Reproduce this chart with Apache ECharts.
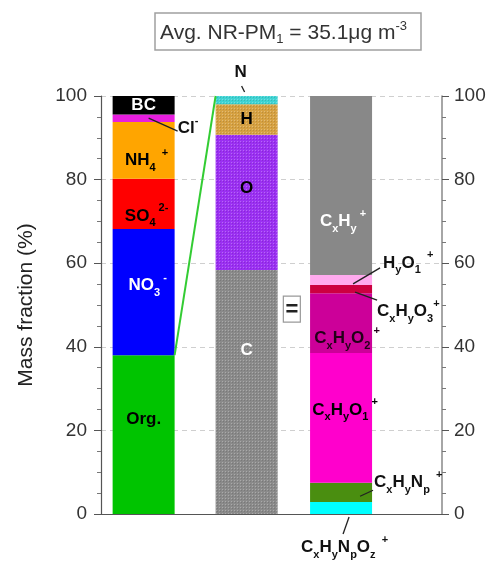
<!DOCTYPE html>
<html><head><meta charset="utf-8">
<script src="https://cdn.jsdelivr.net/npm/echarts@6/dist/echarts.min.js"></script>
<style>html,body{margin:0;padding:0;background:#fff}#c{width:501px;height:562px}</style>
</head><body><div id="c"></div>
<script>
// ---------------- data ----------------
const categories = ['Bulk NR-PM1 + BC', 'Organic elements', 'Organic ion families'];
const barX = [1.25, 4.27, 7.04];          // category positions on the hidden x scale
const bulkNames = ['Org.', 'NO3-', 'SO4 2-', 'NH4+', 'Cl-', 'BC'];
const bulkValues = [38.0, 30.2, 12.0, 13.6, 1.8, 4.4];
const elemNames = ['C', 'O', 'H', 'N'];
const elemValues = [58.4, 32.3, 7.3, 2.0];
const famNames = ['CxHyNpOz+', 'CxHyNp+', 'CxHyO1+', 'CxHyO2+', 'CxHyO3+', 'HyO1+', 'CxHy+'];
const famValues = [2.9, 4.6, 31.0, 14.3, 2.0, 2.4, 42.8];
const yTicks = [0, 20, 40, 60, 80, 100];
const avgMass = 35.1;

// ---------------- styles ----------------
const FF = '"Liberation Sans", Arial, Helvetica, sans-serif';
const bulkColors = ['#00c400', '#0000ff', '#ff0000', '#ffa500', '#e81ee0', '#000000'];
const elemColors = ['#8a8a8a', '#9b30f2', '#d6a142', '#3fd3d3'];
const famColors = ['#00ffff', '#4a8e10', '#ff00cc', '#cc0099', '#cc0040', '#ffaaee', '#888888'];
const rich = {
  b: {fontSize: 17, fontWeight: 'bold', fontFamily: FF, lineHeight: 26, verticalAlign: 'middle'},
  s: {fontSize: 11, fontWeight: 'bold', fontFamily: FF, lineHeight: 15, verticalAlign: 'bottom'},
  p: {fontSize: 11, fontWeight: 'bold', fontFamily: FF, lineHeight: 12, verticalAlign: 'top'}
};
const labelText = {
  'Org.': '{b|Org.}', 'NO3-': '{b|NO}{s|3}{p| -}', 'SO4 2-': '{b|SO}{s|4}{p| 2-}', 'NH4+': '{b|NH}{s|4}{p|  +}',
  'Cl-': '{b|Cl}{p|-}', 'BC': '{b|BC}',
  'C': '{b|C}', 'O': '{b|O}', 'H': '{b|H}', 'N': '{b|N}',
  'CxHyNpOz+': '{b|C}{s|x}{b|H}{s|y}{b|N}{s|p}{b|O}{s|z}{p|  +}', 'CxHyNp+': '{b|C}{s|x}{b|H}{s|y}{b|N}{s|p}{p|  +}',
  'CxHyO1+': '{b|C}{s|x}{b|H}{s|y}{b|O}{s|1}{p| +}', 'CxHyO2+': '{b|C}{s|x}{b|H}{s|y}{b|O}{s|2}{p| +}',
  'CxHyO3+': '{b|C}{s|x}{b|H}{s|y}{b|O}{s|3}{p|+}', 'HyO1+': '{b|H}{s|y}{b|O}{s|1}{p|  +}', 'CxHy+': '{b|C}{s|x}{b|H}{s|y}{p| +}'
};
// inside labels: [text colour, offset from segment centre]
const insideLabels = {
  'Org.': ['#000', [0, -15]], 'NO3-': ['#fff', [4, -7]], 'SO4 2-': ['#000', [3, 12]], 'NH4+': ['#000', [3, 10]], 'BC': ['#fff', [0, 0]],
  'C': ['#fff', [0, -42]], 'O': ['#000', [0, -14]], 'H': ['#000', [0, 0]],
  'CxHy+': ['#fff', [2, 36]], 'CxHyO2+': ['#220018', [6, 15]], 'CxHyO1+': ['#000', [4, -8]]
};

const BAR_W = 62;
const X_MIN = 0, X_MAX = 10;
const GRID = {left: 101, right: 59, top: 96, bottom: 48};
const plotW = 501 - GRID.left - GRID.right;
const halfBar = (BAR_W / 2) * (X_MAX - X_MIN) / plotW;

// dotted texture for the elemental bar
function dotPattern() {
  const c = document.createElement('canvas');
  c.width = 3; c.height = 3;
  const ctx = c.getContext('2d');
  ctx.fillStyle = 'rgba(255,255,255,0.28)';
  ctx.fillRect(0, 0, 1, 1);
  ctx.fillStyle = 'rgba(0,0,0,0.12)';
  ctx.fillRect(1, 1, 1, 1);
  return c;
}
const PAT = dotPattern();

function stackSeries(name, names, values, colors, xi, textured) {
  const data = [];
  let acc = 0;
  values.forEach((v, i) => { data.push([barX[xi], acc, acc + v, i]); acc += v; });
  return {
    type: 'custom', name: name, silent: true, z: 2,
    encode: {x: 0, y: [1, 2]},
    data: data,
    renderItem: function (params, api) {
      const i = api.value(3);
      const p0 = api.coord([api.value(0), api.value(1)]);
      const p1 = api.coord([api.value(0), api.value(2)]);
      const n = names[i];
      const rect = {x: p0[0] - BAR_W / 2, y: p1[1], width: BAR_W, height: p0[1] - p1[1]};
      const children = [{type: 'rect', shape: rect, style: {fill: colors[i]}}];
      if (textured) children.push({type: 'rect', shape: rect, style: {fill: {image: PAT, repeat: 'repeat'}}});
      const il = insideLabels[n];
      if (il) {
        children.push({type: 'text', x: p0[0] + il[1][0], y: (p0[1] + p1[1]) / 2 + il[1][1], z2: 10,
          style: {text: labelText[n], rich: rich, fill: il[0], align: 'center', verticalAlign: 'middle', fontFamily: FF}});
      }
      return {type: 'group', children: children};
    }
  };
}

const series = [
  stackSeries(categories[0], bulkNames, bulkValues, bulkColors, 0, false),
  stackSeries(categories[1], elemNames, elemValues, elemColors, 1, true),
  stackSeries(categories[2], famNames, famValues, famColors, 2, false),
  {
    type: 'line', name: 'link', data: [[barX[0] + halfBar, bulkValues[0]], [barX[1] - halfBar, 100]],
    symbol: 'none', lineStyle: {color: '#33cc33', width: 2}, z: 5, silent: true
  }
];

const chart = echarts.init(document.getElementById('c'), null, {renderer: 'canvas'});
const yAxisBase = {
  type: 'value', min: 0, max: 100, interval: 20,
  axisLine: {show: true, lineStyle: {color: '#555', width: 1.2}},
  axisTick: {show: true, inside: false, length: 7, lineStyle: {color: '#555'}},
  minorTick: {show: true, splitNumber: 4, length: 4, lineStyle: {color: '#777'}},
  axisLabel: {fontSize: 19, color: '#333', fontFamily: FF, formatter: v => (yTicks.indexOf(v) >= 0 ? String(v) : '')}
};
chart.setOption({
  animation: false,
  backgroundColor: '#fff',
  grid: GRID,
  xAxis: {
    type: 'value', min: X_MIN, max: X_MAX,
    axisLine: {show: true, onZero: false, lineStyle: {color: '#555', width: 1.2}},
    axisTick: {show: false}, axisLabel: {show: false}, splitLine: {show: false}
  },
  yAxis: [
    Object.assign({}, yAxisBase, {
      position: 'left', name: 'Mass fraction (%)', nameLocation: 'middle', nameGap: 64,
      nameTextStyle: {fontSize: 21, color: '#222', fontFamily: FF},
      axisLabel: Object.assign({}, yAxisBase.axisLabel, {margin: 14}),
      splitLine: {show: true, lineStyle: {color: '#cfcfcf', type: [5, 4]}}
    }),
    Object.assign({}, yAxisBase, {
      position: 'right', axisLabel: Object.assign({}, yAxisBase.axisLabel, {margin: 12}),
      axisLine: {show: true, lineStyle: {color: '#888', width: 1.5}},
      splitLine: {show: false}
    })
  ],
  series: series
});

// ---------------- annotations anchored to the data scale ----------------
function px(x, y) { return chart.convertToPixel({xAxisIndex: 0, yAxisIndex: 0}, [x, y]); }
function cumTop(vals, i) { let s = 0; for (let k = 0; k <= i; k++) s += vals[k]; return s; }
function mid(vals, i) { return cumTop(vals, i) - vals[i] / 2; }
const g = [];
function txt(x, y, t, align, color) {
  g.push({type: 'text', x: x, y: y, z: 50, silent: true,
    style: {text: t, rich: rich, fill: color || '#111', align: align || 'left', verticalAlign: 'middle', fontFamily: FF}});
}
function seg(x1, y1, x2, y2) {
  g.push({type: 'line', z: 50, silent: true, shape: {x1: x1, y1: y1, x2: x2, y2: y2}, style: {stroke: '#222', lineWidth: 1.3}});
}
// Cl-
let a = px(barX[0], mid(bulkValues, 4));
seg(a[0] + 5, a[1], a[0] + 34, a[1] + 13);
txt(a[0] + 34, a[1] + 10, labelText['Cl-']);
// N
a = px(barX[1], 100);
seg(a[0] - 5, a[1] - 10, a[0] - 2, a[1] - 4);
txt(a[0] - 6, a[1] - 24, labelText['N'], 'center');
// HyO1+
a = px(barX[2], mid(famValues, 5));
seg(a[0] + 12, a[1] + 4, a[0] + 39, a[1] - 12);
txt(a[0] + 42, a[1] - 17, labelText['HyO1+']);
// CxHyO3+
a = px(barX[2], mid(famValues, 4));
seg(a[0] + 14, a[1] + 3, a[0] + 36, a[1] + 11);
txt(a[0] + 36, a[1] + 22, labelText['CxHyO3+']);
// CxHyNp+
a = px(barX[2], mid(famValues, 1));
seg(a[0] + 19, a[1] + 4, a[0] + 32, a[1] - 2);
txt(a[0] + 33, a[1] - 10, labelText['CxHyNp+']);
// CxHyNpOz+
a = px(barX[2], 0);
seg(a[0] + 8, a[1] + 3, a[0] + 2, a[1] + 20);
txt(a[0] - 40, a[1] + 33, labelText['CxHyNpOz+'], 'left');
// "=" box between middle and right bars
const pm = px(barX[1], 0), pr = px(barX[2], 0);
const eqX = (pm[0] + BAR_W / 2 + pr[0] - BAR_W / 2) / 2 - 2;
const eqY = px(barX[1], 49)[1];
g.push({type: 'rect', z: 50, silent: true, shape: {x: eqX - 8.5, y: eqY - 13, width: 17, height: 26}, style: {fill: '#fff', stroke: '#999', lineWidth: 1.2}});
g.push({type: 'text', z: 51, silent: true, x: eqX, y: eqY + 1, style: {text: '=', fontSize: 22, fontWeight: 'bold', fontFamily: FF, fill: '#222', align: 'center', verticalAlign: 'middle'}});
// title box
g.push({type: 'rect', z: 50, silent: true, shape: {x: 155, y: 13, width: 266, height: 37}, style: {fill: '#fff', stroke: '#a0a0a0', lineWidth: 1.5}});
g.push({type: 'text', z: 51, silent: true, x: 160, y: 33, style: {
  text: '{n|Avg. NR-PM}{s|1}{n| = ' + avgMass.toFixed(1) + 'μg m}{p|-3}',
  rich: {
    n: {fontSize: 21, fontFamily: FF, fill: '#333', lineHeight: 26, verticalAlign: 'middle'},
    s: {fontSize: 13, fontFamily: FF, fill: '#333', lineHeight: 16, verticalAlign: 'bottom'},
    p: {fontSize: 13, fontFamily: FF, fill: '#333', lineHeight: 14, verticalAlign: 'top'}
  },
  align: 'left', verticalAlign: 'middle'}});
chart.setOption({graphic: {elements: g}});
</script></body></html>
